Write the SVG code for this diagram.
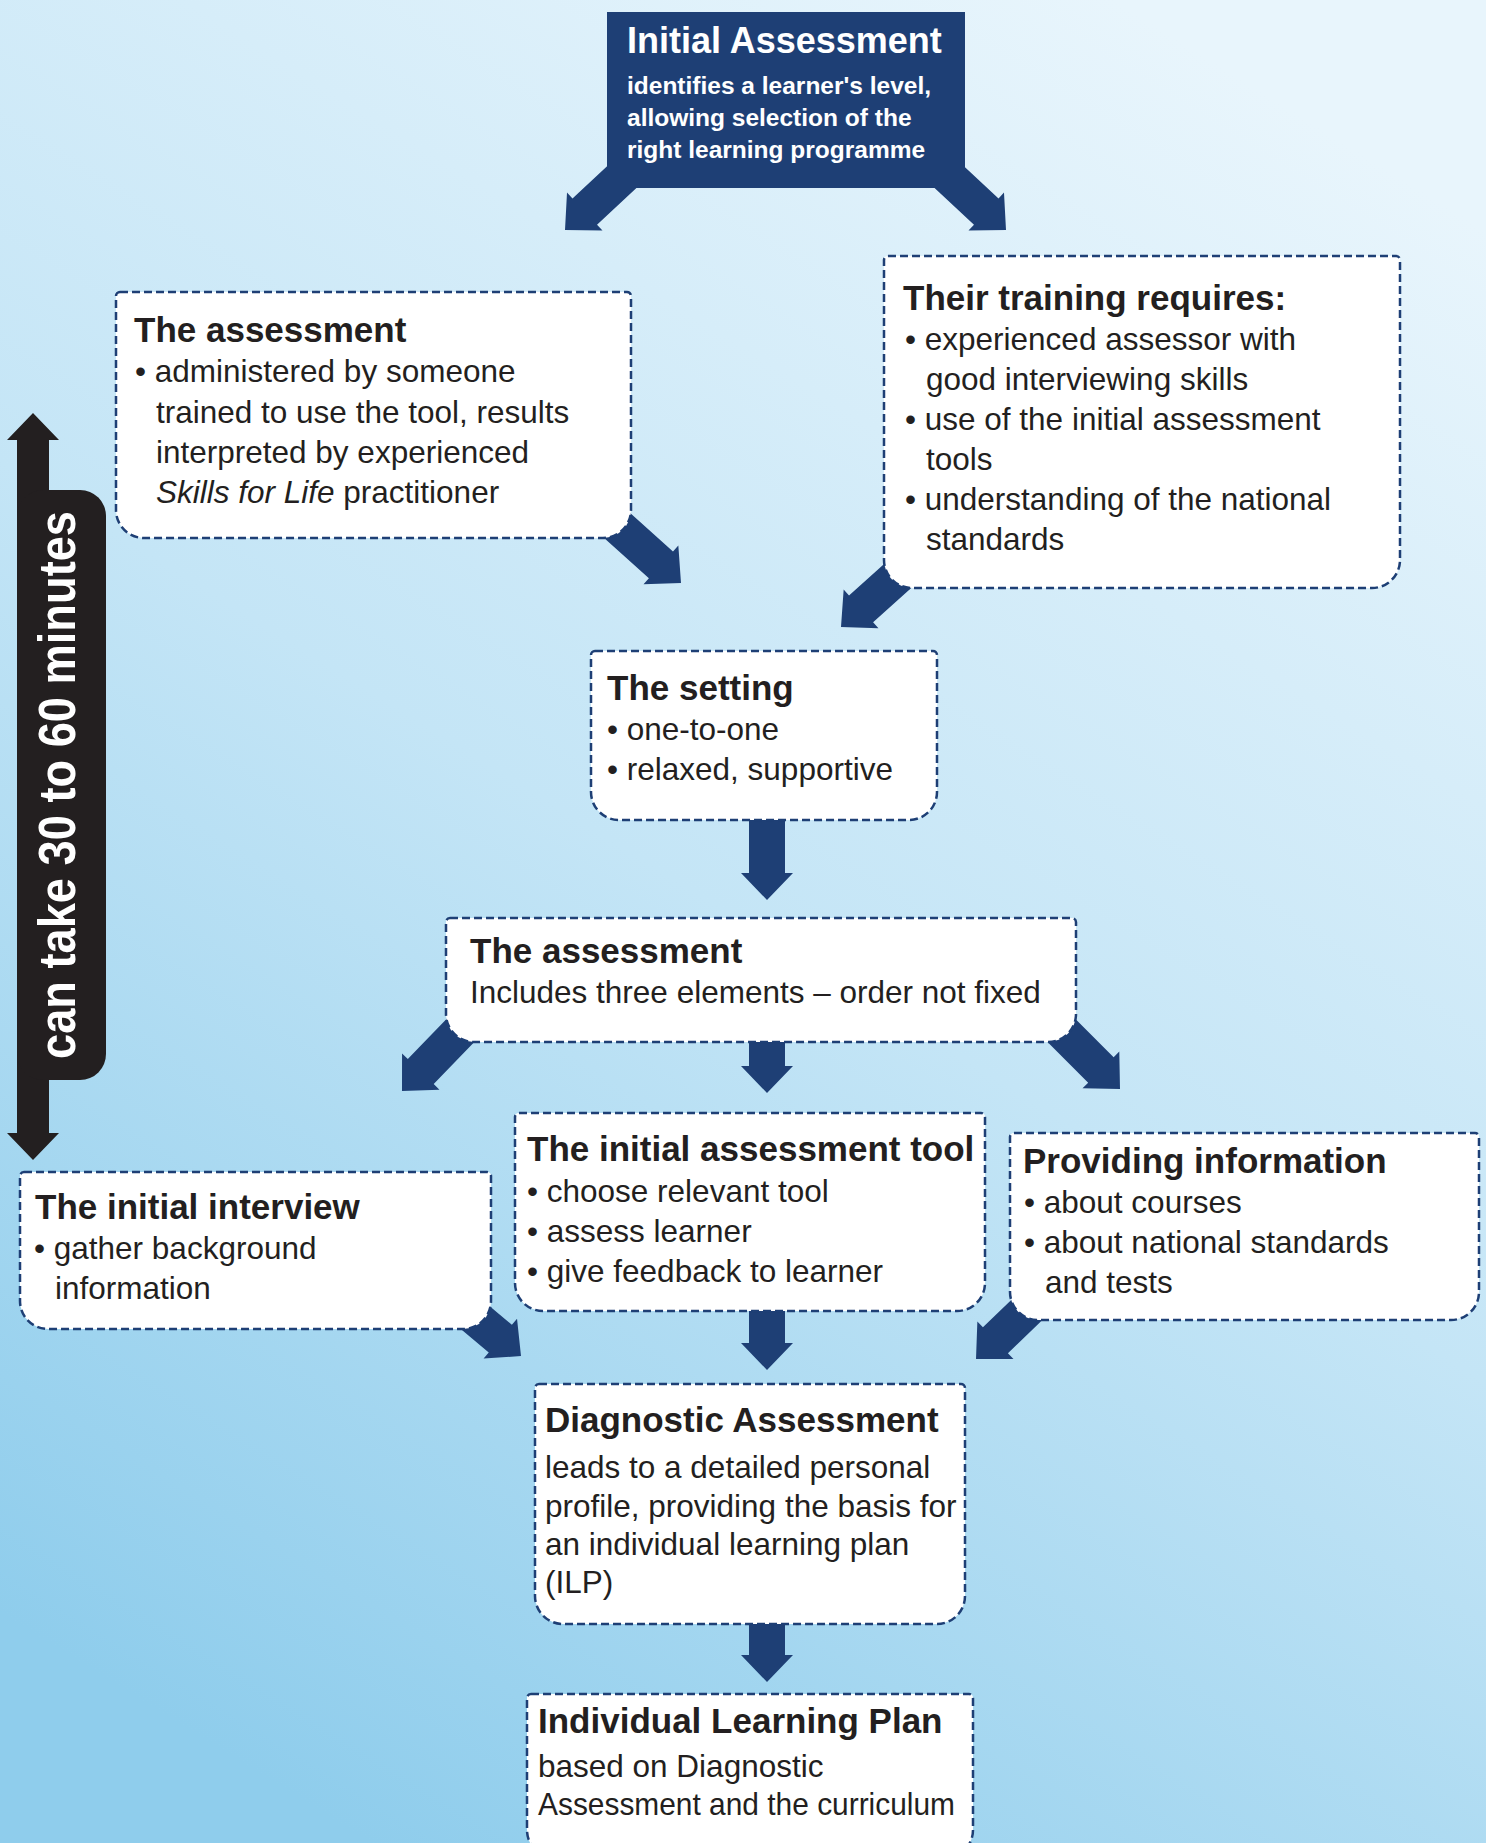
<svg xmlns="http://www.w3.org/2000/svg" xmlns:xlink="http://www.w3.org/1999/xlink" width="1486" height="1843" viewBox="0 0 1486 1843">
<defs>
<linearGradient id="bg" x1="0.75" y1="0" x2="0.25" y2="1">
<stop offset="0" stop-color="#e8f5fc"/>
<stop offset="0.5" stop-color="#c4e5f6"/>
<stop offset="1" stop-color="#8fcdec"/>
</linearGradient>
<path id="arr" d="M0,0 L-27,-26 L-27,-18 L-130,-18 L-130,18 L-27,18 L-27,26 Z"/>
<style>
.box{fill:#ffffff;stroke:#1e3f75;stroke-width:2.5;stroke-dasharray:8 4;}
.arr{fill:#1e3f75;}
.t{font-family:"Liberation Sans",Arial,sans-serif;font-size:35px;font-weight:bold;fill:#231f20;}
.b{font-family:"Liberation Sans",Arial,sans-serif;font-size:31.5px;fill:#231f20;}
.wt{font-family:"Liberation Sans",Arial,sans-serif;font-weight:bold;fill:#ffffff;}
</style>
</defs>
<rect x="0" y="0" width="1486" height="1843" fill="url(#bg)"/>

<g id="connectors" class="arr">
<use xlink:href="#arr" transform="translate(565,230) rotate(137)"/>
<use xlink:href="#arr" transform="translate(1006,230) rotate(43)"/>
<use xlink:href="#arr" transform="translate(681,583) rotate(42)"/>
<use xlink:href="#arr" transform="translate(841,627) rotate(138)"/>
<use xlink:href="#arr" transform="translate(767,900) rotate(90)"/>
<use xlink:href="#arr" transform="translate(402,1091) rotate(134)"/>
<use xlink:href="#arr" transform="translate(767,1093) rotate(90)"/>
<use xlink:href="#arr" transform="translate(1120,1089) rotate(45)"/>
<use xlink:href="#arr" transform="translate(521,1356) rotate(40)"/>
<use xlink:href="#arr" transform="translate(767,1370) rotate(90)"/>
<use xlink:href="#arr" transform="translate(976,1359) rotate(136)"/>
<use xlink:href="#arr" transform="translate(767,1682) rotate(90)"/>
</g>

<g id="duration">
<path d="M33,413 L59,440 L49,440 L49,1133 L59,1133 L33,1160 L7,1133 L17,1133 L17,440 L7,440 Z" fill="#231f20"/>
<rect x="17" y="490" width="89" height="590" rx="26" fill="#231f20"/>
<text class="wt" x="0" y="0" transform="translate(75,785) rotate(-90)" text-anchor="middle" font-size="52" textLength="548" lengthAdjust="spacingAndGlyphs">can take 30 to 60 minutes</text>
</g>

<g id="initial-assessment">
<rect x="607" y="12" width="358" height="176" fill="#1e3f75"/>
<text class="wt" x="627" y="53" font-size="36">Initial Assessment</text>
<text class="wt" x="627" y="94" font-size="24.5">identifies a learner's level,</text>
<text class="wt" x="627" y="126" font-size="24.5">allowing selection of the</text>
<text class="wt" x="627" y="158" font-size="24.5">right learning programme</text>
</g>

<g id="assessment-top">
<path class="box" d="M120,292 H627 A4 4 0 0 1 631,296 V510 A28 28 0 0 1 603,538 H144 A28 28 0 0 1 116,510 V296 A4 4 0 0 1 120,292 Z"/>
<text class="t" x="134" y="342">The assessment</text>
<text class="b" x="135" y="382">• administered by someone</text>
<text class="b" x="156" y="423">trained to use the tool, results</text>
<text class="b" x="156" y="463">interpreted by experienced</text>
<text class="b" x="156" y="503"><tspan font-style="italic">Skills for Life</tspan> practitioner</text>
</g>

<g id="training">
<path class="box" d="M888,256 H1396 A4 4 0 0 1 1400,260 V560 A28 28 0 0 1 1372,588 H912 A28 28 0 0 1 884,560 V260 A4 4 0 0 1 888,256 Z"/>
<text class="t" x="903" y="310">Their training requires:</text>
<text class="b" x="905" y="350">• experienced assessor with</text>
<text class="b" x="926" y="390">good interviewing skills</text>
<text class="b" x="905" y="430">• use of the initial assessment</text>
<text class="b" x="926" y="470">tools</text>
<text class="b" x="905" y="510">• understanding of the national</text>
<text class="b" x="926" y="550">standards</text>
</g>

<g id="setting">
<path class="box" d="M595,651 H933 A4 4 0 0 1 937,655 V792 A28 28 0 0 1 909,820 H619 A28 28 0 0 1 591,792 V655 A4 4 0 0 1 595,651 Z"/>
<text class="t" x="607" y="700">The setting</text>
<text class="b" x="607" y="740">• one-to-one</text>
<text class="b" x="607" y="780">• relaxed, supportive</text>
</g>

<g id="assessment-middle">
<path class="box" d="M450,918 H1072 A4 4 0 0 1 1076,922 V1014 A28 28 0 0 1 1048,1042 H474 A28 28 0 0 1 446,1014 V922 A4 4 0 0 1 450,918 Z"/>
<text class="t" x="470" y="963">The assessment</text>
<text class="b" x="470" y="1003">Includes three elements – order not fixed</text>
</g>

<g id="initial-interview">
<path class="box" d="M24,1172 H487 A4 4 0 0 1 491,1176 V1301 A28 28 0 0 1 463,1329 H48 A28 28 0 0 1 20,1301 V1176 A4 4 0 0 1 24,1172 Z"/>
<text class="t" x="35" y="1219">The initial interview</text>
<text class="b" x="34" y="1259">• gather background</text>
<text class="b" x="55" y="1299">information</text>
</g>

<g id="assessment-tool">
<path class="box" d="M519,1113 H981 A4 4 0 0 1 985,1117 V1283 A28 28 0 0 1 957,1311 H543 A28 28 0 0 1 515,1283 V1117 A4 4 0 0 1 519,1113 Z"/>
<text class="t" x="527" y="1161">The initial assessment tool</text>
<text class="b" x="527" y="1202">• choose relevant tool</text>
<text class="b" x="527" y="1242">• assess learner</text>
<text class="b" x="527" y="1282">• give feedback to learner</text>
</g>

<g id="providing-information">
<path class="box" d="M1014,1133 H1475 A4 4 0 0 1 1479,1137 V1292 A28 28 0 0 1 1451,1320 H1038 A28 28 0 0 1 1010,1292 V1137 A4 4 0 0 1 1014,1133 Z"/>
<text class="t" x="1023" y="1173">Providing information</text>
<text class="b" x="1024" y="1213">• about courses</text>
<text class="b" x="1024" y="1253">• about national standards</text>
<text class="b" x="1045" y="1293">and tests</text>
</g>

<g id="diagnostic-assessment">
<path class="box" d="M539,1384 H961 A4 4 0 0 1 965,1388 V1596 A28 28 0 0 1 937,1624 H563 A28 28 0 0 1 535,1596 V1388 A4 4 0 0 1 539,1384 Z"/>
<text class="t" x="545" y="1432">Diagnostic Assessment</text>
<text class="b" x="545" y="1478">leads to a detailed personal</text>
<text class="b" x="545" y="1517">profile, providing the basis for</text>
<text class="b" x="545" y="1555">an individual learning plan</text>
<text class="b" x="545" y="1593">(ILP)</text>
</g>

<g id="individual-learning-plan">
<path class="box" d="M531,1694 H969 A4 4 0 0 1 973,1698 V1830 A28 28 0 0 1 945,1858 H555 A28 28 0 0 1 527,1830 V1698 A4 4 0 0 1 531,1694 Z"/>
<text class="t" x="538" y="1733">Individual Learning Plan</text>
<text class="b" x="538" y="1777">based on Diagnostic</text>
<text class="b" x="538" y="1815" textLength="417" lengthAdjust="spacingAndGlyphs">Assessment and the curriculum</text>
</g>
</svg>
